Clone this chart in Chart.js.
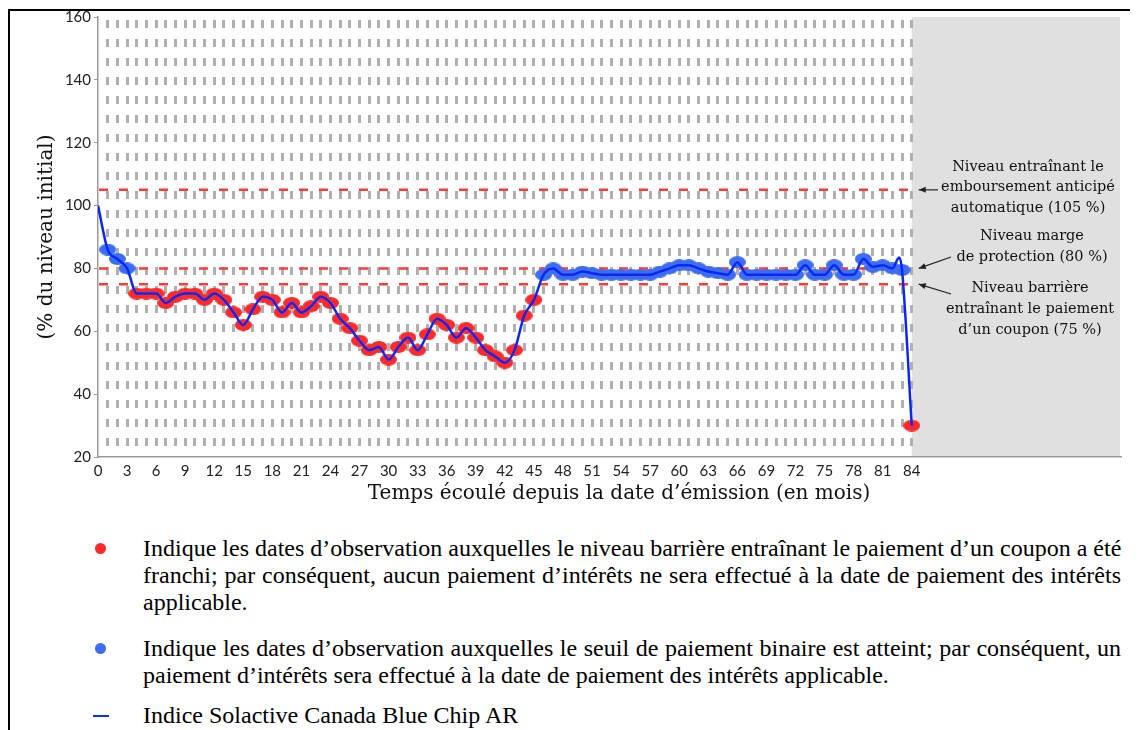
<!DOCTYPE html>
<html>
<head>
<meta charset="utf-8">
<script src="https://cdn.jsdelivr.net/npm/chart.js@4.4.0/dist/chart.umd.min.js"></script>
<style>
html,body{margin:0;padding:0;background:#fff;}
body{width:1138px;height:730px;overflow:hidden;position:relative;}
#wrap{position:absolute;left:0;top:0;width:1138px;height:520px;}
.frame{position:absolute;background:#000;}
.para{position:absolute;left:143px;width:978px;font-family:"Liberation Serif","Times New Roman",serif;font-size:24px;color:#000;}
.para div{height:27px;line-height:27px;white-space:nowrap;text-align:justify;text-align-last:justify;}
.para div.last{text-align:left;text-align-last:left;}
.dot{position:absolute;width:11px;height:11px;border-radius:50%;}
</style>
</head>
<body>
<div class="frame" style="left:8px;top:9px;width:1122px;height:1.5px;"></div>
<div class="frame" style="left:8px;top:9px;width:1.5px;height:721px;"></div>
<div id="wrap"><canvas id="c" width="1138" height="520"></canvas></div>

<div class="dot" style="left:95px;top:543px;background:#ff2b2b;"></div>
<div class="para" style="top:535px;">
  <div>Indique les dates d’observation auxquelles le niveau barrière entraînant le paiement d’un coupon a été</div>
  <div>franchi; par conséquent, aucun paiement d’intérêts ne sera effectué à la date de paiement des intérêts</div>
  <div class="last">applicable.</div>
</div>
<div class="dot" style="left:95px;top:643px;background:#3d6df2;"></div>
<div class="para" style="top:635px;">
  <div>Indique les dates d’observation auxquelles le seuil de paiement binaire est atteint; par conséquent, un</div>
  <div class="last">paiement d’intérêts sera effectué à la date de paiement des intérêts applicable.</div>
</div>
<div style="position:absolute;left:93px;top:715px;width:16px;height:2px;background:#1030f0;"></div>
<div class="para" style="top:702px;">
  <div class="last">Indice Solactive Canada Blue Chip AR</div>
</div>

<script>
// ---------- DATA ----------
const lineMonths = [0,1,2,3,4,5,6,7,8,9,10,11,12,13,14,15,16,17,18,19,20,21,22,23,24,25,26,27,28,29,30,31,32,33,34,35,36,37,38,39,40,41,42,43,44,45,46,47,48,49,50,51,52,53,54,55,56,57,58,59,60,61,62,63,64,65,66,67,68,69,70,71,72,73,74,75,76,77,78,79,80,81,82,82.7,83,84];
const lineLevels = [100,86,83,80,72,72,72,69,71,72,72,70,72,70,66,62,67,71,70,66,69,66,68,71,69,64,61,57,54,55,51,55,58,54,59,64,62,58,61,58,54,52,50,54,65,70,78,80,78,78,79,78.5,78,78,78,78,78,78,79,80,81,81,80,79,78.5,78,82,78,78,78,78,78,78,81,78,78,81,78,78,83,80.5,81,80,83.5,79.5,30];
const obsMonths = [1,2,3,4,5,6,7,8,9,10,11,12,13,14,15,16,17,18,19,20,21,22,23,24,25,26,27,28,29,30,31,32,33,34,35,36,37,38,39,40,41,42,43,44,45,46,47,48,49,50,51,52,53,54,55,56,57,58,59,60,61,62,63,64,65,66,67,68,69,70,71,72,73,74,75,76,77,78,79,80,81,82,83,84];
const obsLevels = [86,83,80,72,72,72,69,71,72,72,70,72,70,66,62,67,71,70,66,69,66,68,71,69,64,61,57,54,55,51,55,58,54,59,64,62,58,61,58,54,52,50,54,65,70,78,80,78,78,79,78.5,78,78,78,78,78,78,79,80,81,81,80,79,78.5,78,82,78,78,78,78,78,78,81,78,78,81,78,78,83,80.5,81,80,79.5,30];
const xTickLabels = ['0','3','6','9','12','15','18','21','24','27','30','33','36','39','42','45','48','51','54','57','60','63','66','69','72','75','78','81','84'];
const yTicks = [20,40,60,80,100,120,140,160];
const refLevels = [105, 80, 75];
const couponBarrier = 75;
const lastMonth = 84;
const annotations = [
  {level:105, lines:['Niveau entraînant le','emboursement anticipé','automatique (105 %)']},
  {level:80, lines:['Niveau marge','de protection (80 %)']},
  {level:75, lines:['Niveau barrière','entraînant le paiement','d’un coupon (75 %)']}
];
const xTitle = 'Temps écoulé depuis la date d’émission (en mois)';
const yTitle = '(% du niveau initial)';

// ---------- STYLE HELPERS ----------
function ellipseImg(color, w, h){
  const c = document.createElement('canvas'); c.width = w; c.height = h;
  const g = c.getContext('2d'); g.fillStyle = color;
  g.beginPath(); g.ellipse(w/2, h/2, w/2, h/2, 0, 0, Math.PI*2); g.fill();
  return c;
}
const RED = '#ff2b2b', BLUE = '#3d6df2';
const redMark = ellipseImg(RED, 17, 12);
const blueMark = ellipseImg(BLUE, 17, 12);

const lineData = lineMonths.map((m,i)=>({x:m, y:lineLevels[i]}));
const obsData = obsMonths.map((m,i)=>({x:m, y:obsLevels[i]}));

const decor = {
  id:'decor',
  beforeDraw(chart){
    const {ctx, chartArea:a, scales:{x}} = chart;
    const x84 = x.getPixelForValue(lastMonth);
    ctx.save();
    ctx.fillStyle = '#e0e0e0';
    ctx.fillRect(x84, a.top, a.right - x84, a.bottom - a.top);
    ctx.restore();
  },
  beforeDatasetsDraw(chart){
    const {ctx, chartArea:a, scales:{x,y}} = chart;
    const x84 = x.getPixelForValue(lastMonth);
    ctx.save();
    ctx.strokeStyle = '#ff3b3b';
    ctx.lineWidth = 2.5;
    ctx.setLineDash([9,11]);
    refLevels.forEach(v=>{
      const py = y.getPixelForValue(v);
      ctx.beginPath(); ctx.moveTo(a.left+1, py); ctx.lineTo(x84, py); ctx.stroke();
    });
    ctx.restore();
  },
  afterDraw(chart){
    const {ctx, chartArea:a, scales:{x,y}} = chart;
    const x84 = x.getPixelForValue(lastMonth);
    ctx.save();
    // annotations
    ctx.fillStyle = '#111';
    ctx.font = '14.5px "DejaVu Serif", serif';
    ctx.textAlign = 'center'; ctx.textBaseline = 'middle';
    const tx = [1028, 1032, 1030];
    const tyStart = [167, 236, 288];
    const lh = [20.7, 21, 21];
    annotations.forEach((an,k)=>{
      an.lines.forEach((t,j)=>ctx.fillText(t, tx[k], tyStart[k] + j*lh[k]));
    });
    // arrows
    ctx.strokeStyle = '#222'; ctx.fillStyle = '#222'; ctx.lineWidth = 1.2;
    const ax = x84 + 7;
    const starts = [[938, y.getPixelForValue(105)],[951, 257],[951, 294]];
    annotations.forEach((an,k)=>{
      const ey = y.getPixelForValue(an.level);
      const [sx, sy] = starts[k];
      ctx.beginPath(); ctx.moveTo(sx, sy); ctx.lineTo(ax, ey); ctx.stroke();
      const ang = Math.atan2(ey - sy, ax - sx);
      ctx.beginPath();
      ctx.moveTo(ax, ey);
      ctx.lineTo(ax - 7*Math.cos(ang) + 3*Math.sin(ang), ey - 7*Math.sin(ang) - 3*Math.cos(ang));
      ctx.lineTo(ax - 7*Math.cos(ang) - 3*Math.sin(ang), ey - 7*Math.sin(ang) + 3*Math.cos(ang));
      ctx.closePath(); ctx.fill();
    });
    // axis titles
    ctx.fillStyle = '#111';
    ctx.font = '20px "DejaVu Serif", serif';
    ctx.fillText(xTitle, 619, 494);
    ctx.translate(47, (a.top + a.bottom)/2);
    ctx.rotate(-Math.PI/2);
    ctx.fillText(yTitle, 0, 0);
    ctx.restore();
  }
};

new Chart(document.getElementById('c'), {
  type:'line',
  data:{
    datasets:[
      {
        label:'Indice Solactive Canada Blue Chip AR',
        data: lineData,
        borderColor:'#0a28f5',
        borderWidth:2.5,
        pointRadius:0,
        cubicInterpolationMode:'monotone',
        fill:false,
        order:1
      },
      {
        label:'Observations',
        data: obsData,
        showLine:false,
        pointRadius:7,
        pointHoverRadius:7,
        pointStyle: obsLevels.map(v => v < couponBarrier ? redMark : blueMark),
        order:2
      }
    ]
  },
  options:{
    responsive:false,
    animation:false,
    devicePixelRatio:1,
    layout:{padding:{left:0, top:17, right:18, bottom:0}},
    plugins:{legend:{display:false}, tooltip:{enabled:false}},
    events:[],
    scales:{
      x:{
        type:'linear', min:0, max:105.5,
        afterFit(s){ s.height = 63; },
        afterBuildTicks(s){
          const ticks = [];
          for (let v = 0; v <= lastMonth; v++) ticks.push({value:v});
          s.ticks = ticks;
        },
        ticks:{
          autoSkip:false, maxRotation:0, padding:5,
          color:'#222', font:{family:'Lato', size:15},
          callback:(v)=>{ const s = String(v); return xTickLabels.includes(s) ? s : ''; }
        },
        grid:{
          drawTicks:false,
          lineWidth:3,
          color:(c)=> (c.tick && c.tick.value >= 1 && c.tick.value <= lastMonth) ? '#b0b0b0' : 'rgba(0,0,0,0)'
        },
        border:{display:true, color:'#9a9a9a', width:1.5, dash:[8,11], dashOffset:16}
      },
      y:{
        min:20, max:160,
        afterFit(s){ s.width = 98; },
        afterBuildTicks(s){ s.ticks = yTicks.map(v=>({value:v})); },
        ticks:{color:'#222', font:{family:'Lato', size:15}, padding:3},
        grid:{drawOnChartArea:false, drawTicks:true, tickLength:4, color:'#9a9a9a', lineWidth:1},
        border:{display:true, color:'#9a9a9a', width:1.5}
      }
    }
  },
  plugins:[decor]
});
</script>
</body>
</html>
